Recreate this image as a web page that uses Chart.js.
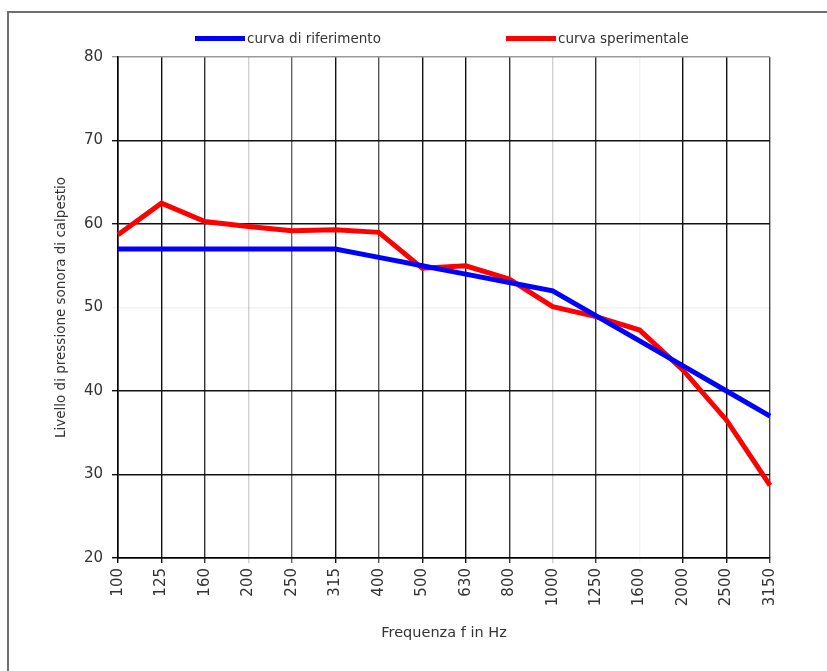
<!DOCTYPE html>
<html>
<head>
<meta charset="utf-8">
<script src="https://cdn.jsdelivr.net/npm/chart.js@4/dist/chart.umd.min.js"></script>
<style>
  html, body { margin: 0; padding: 0; background: #fff; overflow: hidden; }
  #wrap { position: relative; width: 827px; height: 671px; }
  #frame { position: absolute; left: 7px; top: 11px; width: 900px; height: 800px;
           border: 2px solid #6e6e6e; box-sizing: border-box; }
  canvas { position: absolute; left: 0; top: 0; }
  #legend { position: absolute; left: 195px; top: 29px; display: flex;
            font: 13.5px "DejaVu Sans", sans-serif; color: #333; }
  .item { display: flex; align-items: center; height: 18px; }
  .item:first-child { width: 311px; }
  .swatch { width: 50px; height: 5px; margin-right: 2px; }
</style>
</head>
<body>
<div id="wrap">
  <div id="frame"></div>
  <canvas id="c" width="827" height="671"></canvas>
  <div id="legend"></div>
</div>
<script>
// Third-octave band centre frequencies (Hz)
const frequencies = ['100', '125', '160', '200', '250', '315', '400', '500',
                     '630', '800', '1000', '1250', '1600', '2000', '2500', '3150'];

// Reference curve (dB)
const curvaRiferimento = [57, 57, 57, 57, 57, 57, 56, 55, 54, 53, 52, 49, 46, 43, 40, 37];

// Measured curve (dB)
const curvaSperimentale = [58.7, 62.5, 60.3, 59.7, 59.2, 59.3, 59.0, 54.7,
                           55.0, 53.4, 50.1, 48.9, 47.3, 42.5, 36.5, 28.7];

// Level axis range
const yMin = 20, yMax = 80, yStep = 10;

// Grid line shades
const xGridShades = ['#000', '#111', '#333', '#cfcfcf', '#666', '#111', '#555', '#111',
                     '#111', '#333', '#cfcfcf', '#333', '#f2f2f2', '#111', '#111', '#444'];
const yGridShades = ['#000', '#111', '#111', 'rgba(0,0,0,0.05)', '#111', '#111', '#999'];

const textColor = '#333';
const fontFamily = '"DejaVu Sans", sans-serif';

const chart = new Chart(document.getElementById('c'), {
  type: 'line',
  data: {
    labels: frequencies,
    datasets: [
      { label: 'curva di riferimento', data: curvaRiferimento,
        borderColor: '#0000ff', backgroundColor: '#0000ff',
        borderWidth: 5, pointRadius: 0, tension: 0, fill: false },
      { label: 'curva sperimentale', data: curvaSperimentale,
        borderColor: '#ff0000', backgroundColor: '#ff0000',
        borderWidth: 5, pointRadius: 0, tension: 0, fill: false }
    ]
  },
  options: {
    responsive: false,
    animation: false,
    layout: { padding: { left: 48, right: 57, top: 57, bottom: 0 } },
    plugins: { legend: { display: false }, tooltip: { enabled: false } },
    scales: {
      x: {
        offset: false,
        grid: {
          color: ctx => xGridShades[ctx.index] || '#111',
          lineWidth: 1.4, tickLength: 5, drawTicks: true
        },
        border: { color: '#000', width: 1.5 },
        ticks: {
          autoSkip: false, maxRotation: 90, minRotation: 90, padding: 5,
          color: textColor, font: { family: fontFamily, size: 15 }
        },
        title: {
          display: true, text: 'Frequenza f in Hz', color: textColor,
          font: { family: fontFamily, size: 14.5 }, padding: { top: 0, bottom: 29 }
        },
        afterFit: scale => { scale.height = 113; }
      },
      y: {
        min: yMin, max: yMax,
        grid: {
          color: ctx => yGridShades[ctx.index] || '#111',
          lineWidth: 1.4, tickLength: 6
        },
        border: { color: '#000', width: 1.5 },
        ticks: {
          stepSize: yStep, padding: 9, color: textColor,
          font: { family: fontFamily, size: 15 }
        },
        title: {
          display: true, text: 'Livello di pressione sonora di calpestio', color: textColor,
          font: { family: fontFamily, size: 13.5 }, padding: { top: 5, bottom: 0 }
        },
        afterFit: scale => { scale.width = 70; }
      }
    }
  }
});

// Legend built from the chart's datasets
const legend = document.getElementById('legend');
chart.data.datasets.forEach(ds => {
  const item = document.createElement('div');
  item.className = 'item';
  const sw = document.createElement('span');
  sw.className = 'swatch';
  sw.style.background = ds.borderColor;
  const tx = document.createElement('span');
  tx.textContent = ds.label;
  item.appendChild(sw);
  item.appendChild(tx);
  legend.appendChild(item);
});
</script>
</body>
</html>
